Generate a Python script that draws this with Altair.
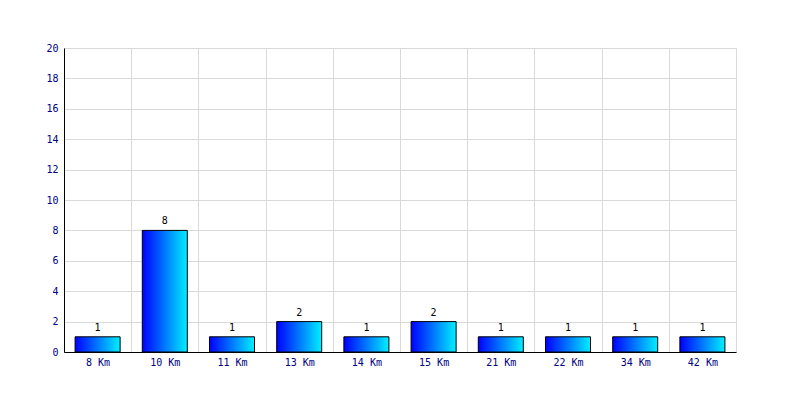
import altair as alt
import pandas as pd

categories = ["8 Km", "10 Km", "11 Km", "13 Km", "14 Km", "15 Km", "21 Km", "22 Km", "34 Km", "42 Km"]
counts = [1, 8, 1, 2, 1, 2, 1, 1, 1, 1]
y_ticks = [0, 2, 4, 6, 8, 10, 12, 14, 16, 18, 20]

df = pd.DataFrame({"dist": categories, "count": counts})

FONT = "DejaVu Sans Mono"
NAVY = "#000080"

gradient = alt.Gradient(
    gradient="linear",
    stops=[alt.GradientStop(color="#0000ff", offset=0), alt.GradientStop(color="#00f0ff", offset=1)],
    x1=0, x2=1, y1=0, y2=0,
)

x = alt.X(
    "dist:N", sort=categories, title=None,
    scale=alt.Scale(paddingInner=0, paddingOuter=0),
    axis=alt.Axis(
        labelAngle=0, ticks=False, grid=True, tickBand="extent",
        gridColor="#d9d9d9", domainColor="black", labelColor=NAVY,
        labelFont=FONT, labelFontSize=10, labelPadding=5,
    ),
)
y = alt.Y(
    "count:Q", title=None,
    scale=alt.Scale(domain=[0, 20], nice=False),
    axis=alt.Axis(
        values=y_ticks, labelOverlap=False, ticks=False, grid=True,
        gridColor="#d9d9d9", domainColor="black", labelColor=NAVY,
        labelFont=FONT, labelFontSize=10, labelPadding=6,
    ),
)

bars = alt.Chart(df).mark_bar(
    color=gradient, stroke="black", strokeWidth=1, width=alt.RelativeBandSize(0.67)
).encode(x=x, y=y)
labels = alt.Chart(df).mark_text(
    baseline="bottom", dy=-4, font=FONT, fontSize=10, color="black"
).encode(x=x, y=y, text="count:Q")

chart = (bars + labels).properties(
    width=672, height=304,
    autosize=alt.AutoSizeParams(type="none"),
    padding={"left": 56, "top": 40, "right": 56, "bottom": 40},
).configure_view(stroke="#d9d9d9").configure(background="white")

chart.save("out.html", embed_options={"renderer": "svg", "actions": False})
